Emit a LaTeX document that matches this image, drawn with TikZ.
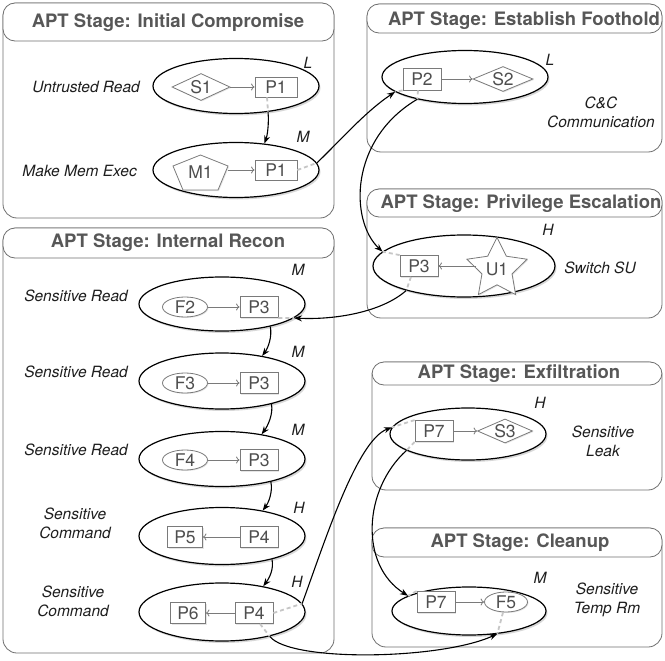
\documentclass[tikz,border=0pt]{standalone}
\usepackage{fontspec}
\setmainfont{TeX Gyre Heros}
\usetikzlibrary{shapes.geometric,shadows,arrows.meta,calc}
\definecolor{boxc}{HTML}{707070}
\definecolor{titlec}{HTML}{575757}
\definecolor{nodec}{HTML}{7A7A7A}
\definecolor{ntext}{HTML}{4E4E4E}
\definecolor{dashc}{HTML}{C6C6C6}
\definecolor{labc}{HTML}{1E1E1E}
\begin{document}
\begin{tikzpicture}[x=1pt,y=-1pt,
 stagebox/.style={draw=boxc, line width=0.8pt, rounded corners=14pt},
 bandbox/.style={draw=boxc, line width=0.8pt, rounded corners=12pt, fill=white},
 title/.style={font=\fontsize{18.5}{20}\selectfont\bfseries, text=titlec, inner sep=0pt},
 grp/.style={ellipse, draw=black, line width=1.2pt, fill=white, inner sep=0pt,
   drop shadow={shadow xshift=1.5pt, shadow yshift=-2pt, opacity=0.3}},
 nodebase/.style={draw=nodec, line width=0.8pt, fill=white, text=ntext,
   font=\fontsize{17.5}{19}\selectfont, inner sep=0pt,
   drop shadow={shadow xshift=1pt, shadow yshift=-1pt, opacity=0.2}},
 proc/.style={nodebase, rectangle, minimum width=38pt, minimum height=21pt},
 sock/.style={nodebase, diamond, aspect=2, minimum width=58pt, minimum height=27pt},
 fil/.style={nodebase, ellipse, minimum width=45pt, minimum height=20pt},
 usr/.style={nodebase, star, star points=5, star point ratio=2.0, minimum size=56pt},
 sidelab/.style={font=\fontsize{15.5}{19}\selectfont\itshape, text=labc, align=center, inner sep=0pt},
 lvl/.style={font=\fontsize{15.5}{18}\selectfont\itshape, text=labc, inner sep=0pt},
 flow/.style={draw=nodec, line width=0.8pt, -{To[length=3.5pt,width=7pt]}},
 hop/.style={draw=black, line width=1.1pt, -{Stealth[length=8pt,width=6pt]}},
 gap/.style={draw=dashc, line width=1.8pt, dash pattern=on 4pt off 3pt},
]
\fill[white] (0,0) rectangle (665,661);
\useasboundingbox (0,0) rectangle (665,661);

% ---------- stage boxes ----------
\draw[stagebox] (3,3) rectangle (334,218);
\draw[bandbox] (3,3) rectangle (334,41);
\node[title] (t1) at (168,23) {APT Stage: Initial Compromise};

\draw[stagebox] (367,4) rectangle (662,152);
\draw[bandbox] (367,4) rectangle (662,33);
\node[title] (t2) at (524,21) {APT Stage: Establish Foothold};

\draw[stagebox] (367,189) rectangle (662,318);
\draw[bandbox] (367,189) rectangle (662,217);
\node[title] (t3) at (521,204) {APT Stage: Privilege Escalation};

\draw[stagebox] (3,228) rectangle (334,653);
\draw[bandbox] (3,228) rectangle (334,258);
\node[title] (t4) at (168,243) {APT Stage: Internal Recon};

\draw[stagebox] (372,362) rectangle (662,490);
\draw[bandbox] (372,362) rectangle (662,385);
\node[title] (t5) at (519,373.5) {APT Stage: Exfiltration};

\draw[stagebox] (372,528) rectangle (662,647);
\draw[bandbox] (372,528) rectangle (662,557);
\node[title] (t6) at (520,543) {APT Stage: Cleanup};

% ---------- Initial Compromise ----------
\node[grp, minimum width=166pt, minimum height=55pt] (e1) at (236,86) {};
\node[sock] (S1) at (201,87) {S1};
\node[proc, minimum width=42pt, minimum height=20pt] (P1a) at (276,87) {P1};
\node[lvl] (l1) at (308,63) {L};
\node[sidelab, anchor=east] (s1) at (140,87) {Untrusted Read};

\node[grp, minimum width=166pt, minimum height=55pt] (e2) at (236,170) {};
\coordinate (m1c) at (200.5,172.5);
\draw[draw=nodec, line width=0.8pt, fill=white,
   drop shadow={shadow xshift=1pt, shadow yshift=-1pt, opacity=0.2}]
   ($(m1c)+(0,-17.5)$) -- ($(m1c)+(27.5,-6.5)$) -- ($(m1c)+(17.5,17.5)$)
   -- ($(m1c)+(-17.5,17.5)$) -- ($(m1c)+(-27.5,-6.5)$) -- cycle;
\node[text=ntext, font=\fontsize{17.5}{19}\selectfont, inner sep=0pt,
   minimum width=55pt, minimum height=35pt] (M1) at (m1c) {M1};
\node[proc, minimum width=42pt, minimum height=20pt] (P1b) at (276,170) {P1};
\node[lvl] (l2) at (303,137) {M};
\node[sidelab, anchor=east] (s2) at (137,171) {Make Mem Exec};

% ---------- Establish Foothold ----------
\node[grp, minimum width=166pt, minimum height=53pt] (e3) at (465,77) {};
\node[proc, minimum height=22pt] (P2) at (422,79) {P2};
\node[sock, minimum width=60pt, minimum height=25pt] (S2) at (503,79) {S2};
\node[lvl] (l3) at (550,60) {L};
\node[sidelab] (s3) at (601,112) {C\&C\\Communication};

% ---------- Privilege Escalation ----------
\node[grp, minimum width=182pt, minimum height=62pt] (e4) at (464,266) {};
\node[proc] (P3c) at (419,266) {P3};
\node[usr] (U1) at (497,269) {U1};
\node[lvl] (l4) at (548,230) {H};
\node[sidelab] (s4) at (600,268) {Switch SU};

% ---------- Internal Recon ----------
\node[grp, minimum width=166pt, minimum height=54pt] (E1) at (222,304) {};
\node[fil] (F2) at (185,307) {F2};
\node[proc] (P3d) at (259,307) {P3};
\node[lvl] (l5) at (298,270) {M};
\node[sidelab, anchor=east] (s5) at (128,296) {Sensitive Read};

\node[grp, minimum width=166pt, minimum height=56pt] (E2) at (222,381) {};
\node[fil] (F3) at (185,383) {F3};
\node[proc] (P3e) at (259,383) {P3};
\node[lvl] (l6) at (298,352) {M};
\node[sidelab, anchor=east] (s6) at (128,372) {Sensitive Read};

\node[grp, minimum width=166pt, minimum height=55pt] (E3) at (222,459) {};
\node[fil] (F4) at (185,460) {F4};
\node[proc] (P3f) at (259,460) {P3};
\node[lvl] (l7) at (298,430) {M};
\node[sidelab, anchor=east] (s7) at (128,450) {Sensitive Read};

\node[grp, minimum width=166pt, minimum height=57pt] (E4) at (222,536) {};
\node[proc, minimum width=35pt] (P5) at (185,537) {P5};
\node[proc] (P4a) at (259,537) {P4};
\node[lvl] (l8) at (299,508) {H};
\node[sidelab] (s8) at (75,523.5) {Sensitive\\Command};

\node[grp, minimum width=166pt, minimum height=58pt] (E5) at (222,612) {};
\node[proc, minimum width=35pt] (P6) at (188,613) {P6};
\node[proc] (P4b) at (254,613) {P4};
\node[lvl] (l9) at (297,582) {H};
\node[sidelab] (s9) at (73,601.5) {Sensitive\\Command};

% ---------- Exfiltration ----------
\node[grp, minimum width=156pt, minimum height=52pt] (X1) at (468,434) {};
\node[proc] (P7a) at (434,431) {P7};
\node[sock, minimum width=55pt, minimum height=23pt] (S3) at (505,431) {S3};
\node[lvl] (l10) at (540,403) {H};
\node[sidelab] (s10) at (603,441) {Sensitive\\Leak};

% ---------- Cleanup ----------
\node[grp, minimum width=154pt, minimum height=48pt] (C1) at (469,611) {};
\node[proc] (P7b) at (436,602) {P7};
\node[fil, minimum width=43pt] (F5) at (506,602) {F5};
\node[lvl] (l11) at (540,578) {M};
\node[sidelab] (s11) at (607,600) {Sensitive\\Temp Rm};

% ---------- flows inside groups ----------
\draw[flow] (S1) -- (P1a);
\draw[flow] (M1.east |- P1b.west) -- (P1b.west);
\draw[flow] (P2) -- (S2);
\draw[flow] (U1.west |- P3c.east) -- (P3c.east);
\draw[flow] (F2) -- (P3d);
\draw[flow] (F3) -- (P3e);
\draw[flow] (F4) -- (P3f);
\draw[flow] (P4a) -- (P5);
\draw[flow] (P4b) -- (P6);
\draw[flow] (P7a) -- (S3);
\draw[flow] (P7b) -- (F5);

% ---------- dashed links node -> group border ----------
\draw[gap] ([xshift=-9pt]P1a.south) -- (e1.-39);
\draw[gap] (P1b.east) -- (e2.5);
\draw[gap] (P2.south west) -- (e3.192);
\draw[gap] ([xshift=-4pt]P2.south) -- (e3.205);
\draw[gap] (P3c.north west) -- (e4.170);
\draw[gap] ([xshift=-8pt]P3c.south) -- (e4.203);
\draw[gap] (P3d.south east) -- (E1.-11);
\draw[gap] (P4b.east) -- (E5.6);
\draw[gap] ([xshift=6pt]P4b.south) -- (E5.-27);
\draw[gap] (P7a.north west) -- (X1.175);
\draw[gap] (P7a.south west) -- (X1.195);
\draw[gap] (P7b.north west) -- (C1.166);
\draw[gap] ([xshift=-3pt]F5.south) -- (C1.-39);

% ---------- connectors between groups ----------
\draw[hop] (e1.-39) .. controls +(1,12) and +(3,-8) .. (e2.43);
\draw[hop] (e2.5) .. controls +(24,-23) and +(-30,20) .. (e3.192);
\draw[hop] (e3.205) .. controls +(-68,40) and +(-33,-31) .. (e4.170);
\draw[hop] (e4.203) .. controls +(-25,22) and +(40,2) .. (E1.-11);
\draw[hop] (E1.-25) .. controls +(2,10) and +(6,-8) .. (E2.32);
\draw[hop] (E2.-25) .. controls +(2,10) and +(6,-8) .. (E3.32);
\draw[hop] (E3.-25) .. controls +(2,10) and +(6,-8) .. (E4.32);
\draw[hop] (E4.-25) .. controls +(2,10) and +(6,-8) .. (E5.32);
\draw[hop] (E5.6) .. controls +(23,-63) and +(-35,13) .. (X1.175);
\draw[hop] (X1.195) .. controls +(-43,39) and +(-49,-31) .. (C1.166);
\draw[hop] (E5.-27) .. controls +(20,26) and +(-57,26) .. (C1.-39);
\end{tikzpicture}
\end{document}
